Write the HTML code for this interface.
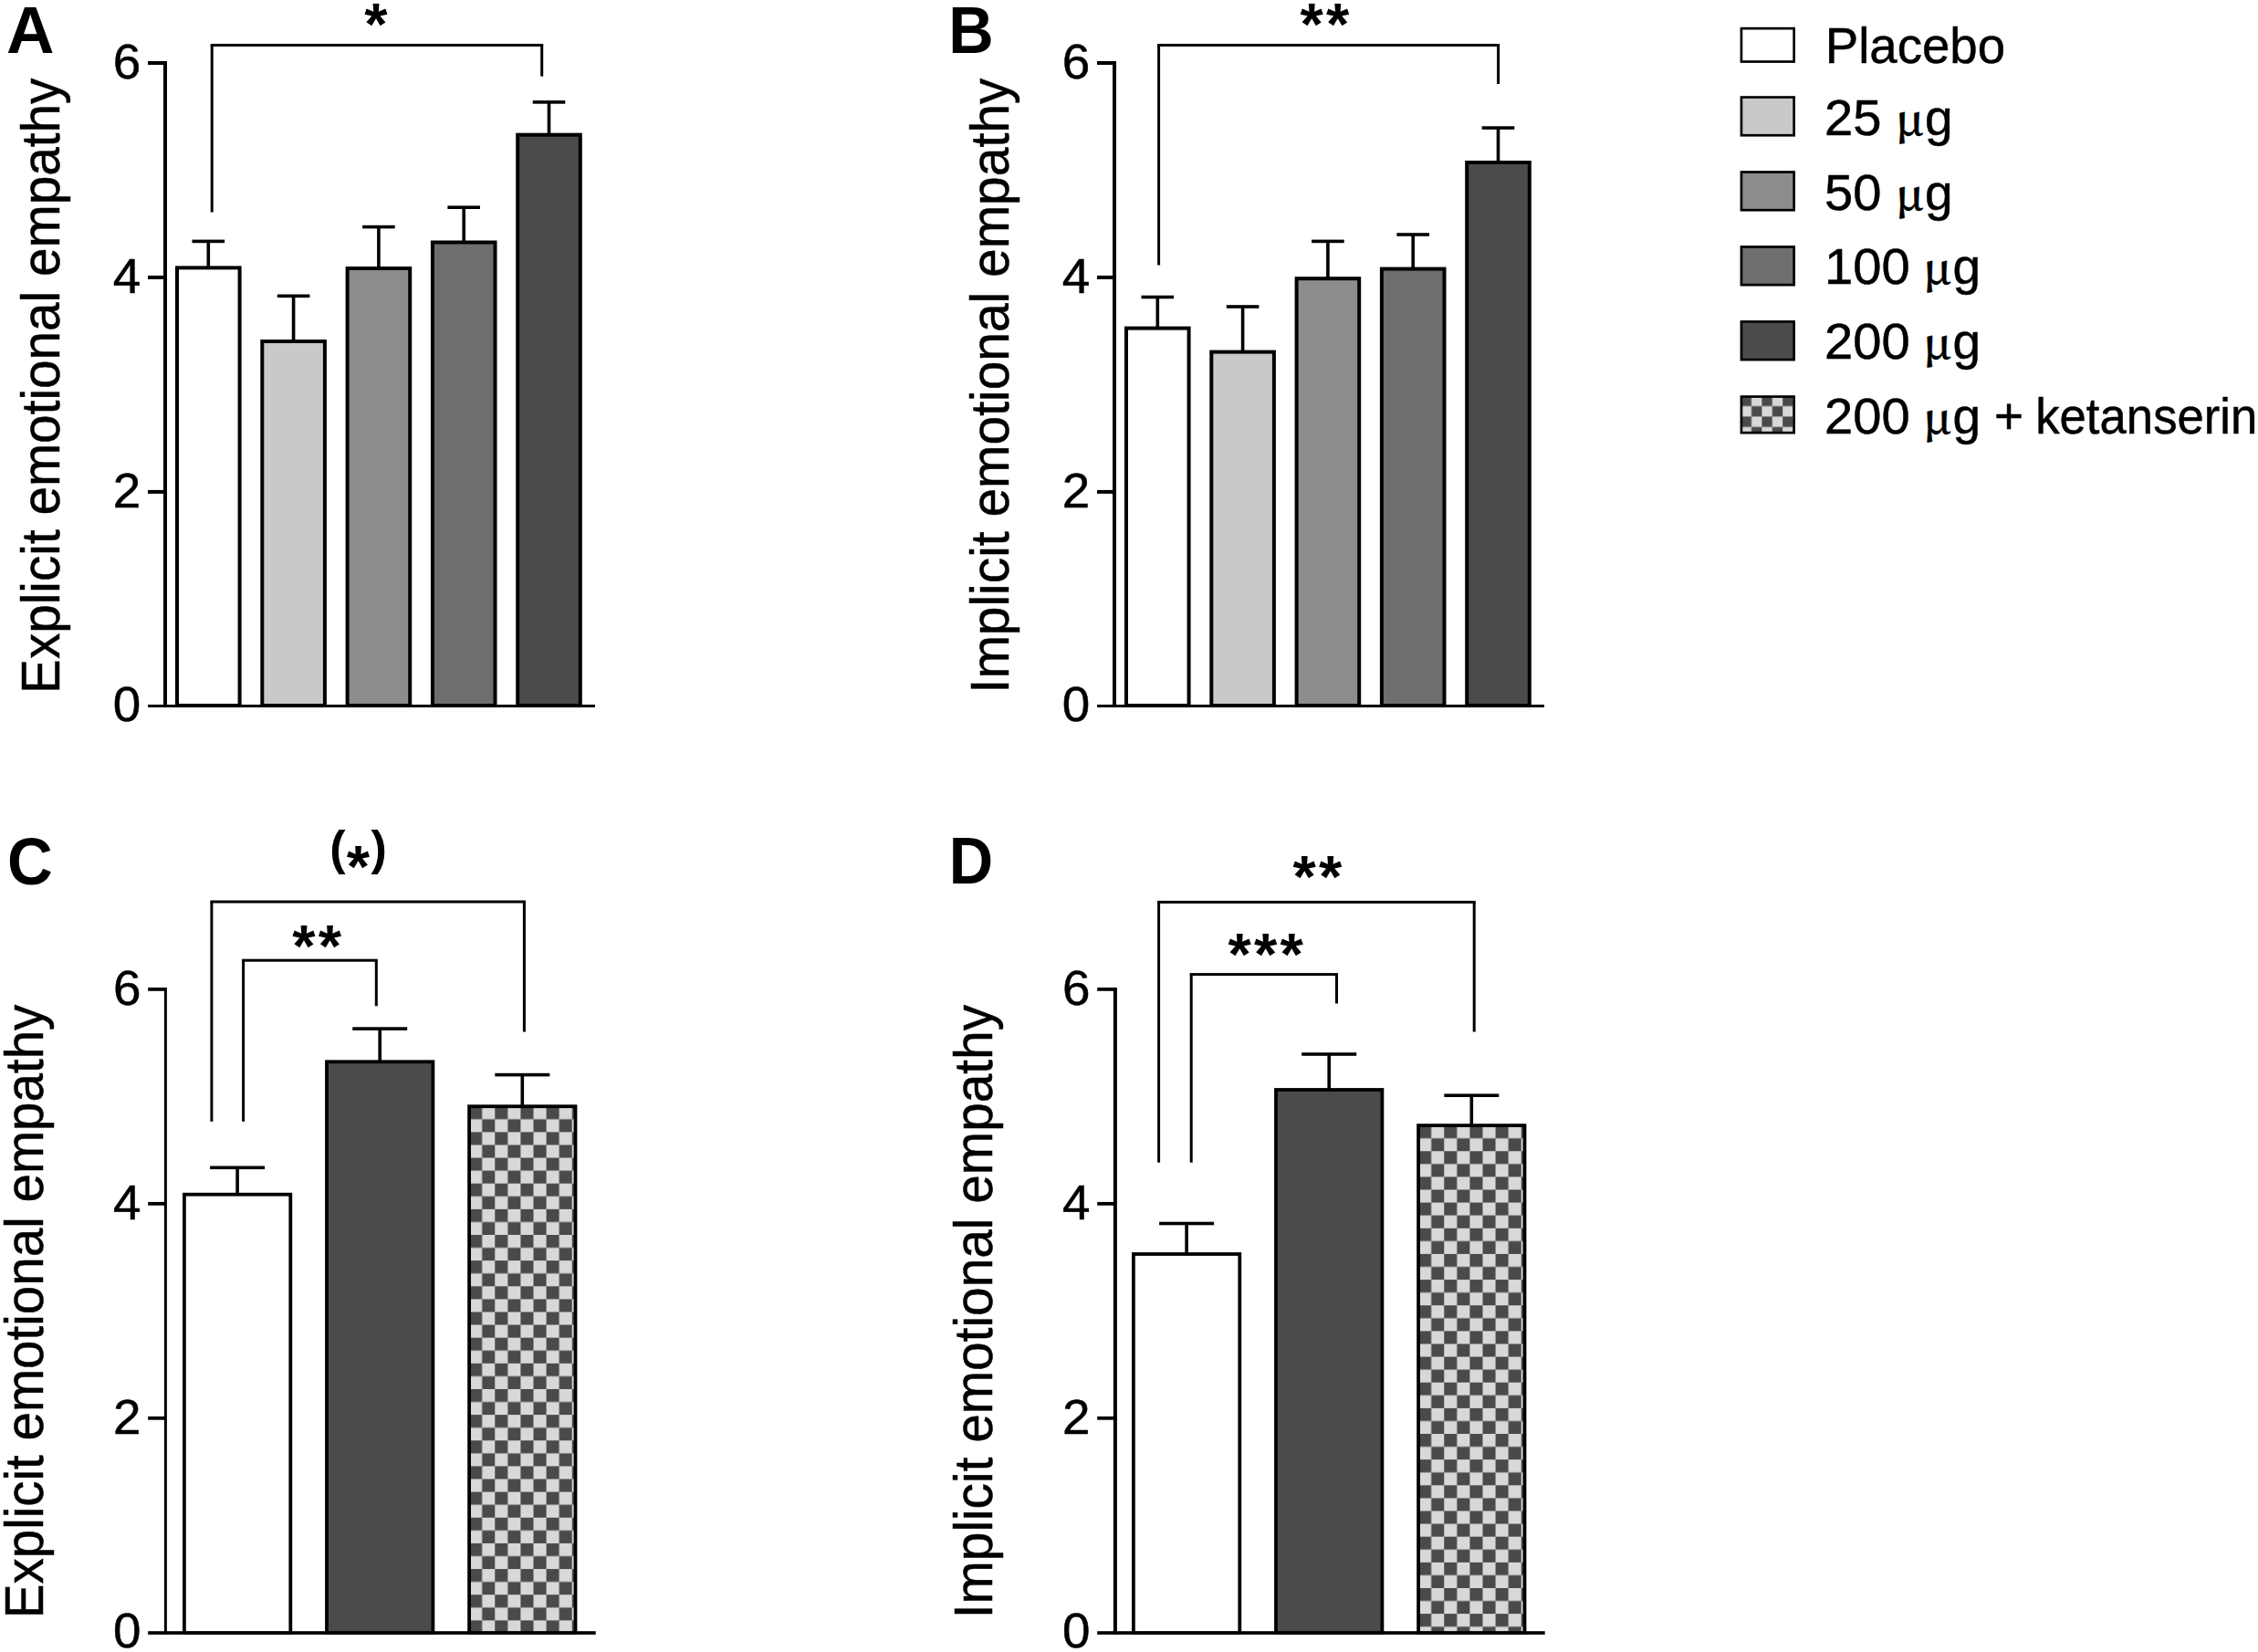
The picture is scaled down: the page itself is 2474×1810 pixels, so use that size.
<!DOCTYPE html>
<html lang="en"><head><meta charset="utf-8"><title>Figure</title>
<style>html,body{margin:0;padding:0;background:#fff}body{width:2474px;height:1810px;overflow:hidden}svg{display:block}text{font-family:'Liberation Sans', Arial, Helvetica, sans-serif;fill:#000;stroke:#000;stroke-width:.5px}text[font-weight=bold]{stroke:none}.mu{font-family:'Noto Serif CJK SC','Liberation Serif',serif;font-weight:600;stroke-width:.4px}</style>
</head><body>
<svg width="2474" height="1810" viewBox="0 0 2474 1810">
<rect width="2474" height="1810" fill="#fff"/>
<!-- Panel A -->
<rect x="179" y="67" width="4" height="708.05" fill="#000"/>
<rect x="162" y="772.05" width="490" height="3" fill="#000"/>
<rect x="162" y="67" width="19" height="4" fill="#000"/>
<text x="123.8" y="85.8" font-size="53" textLength="30.5" lengthAdjust="spacingAndGlyphs">6</text>
<rect x="162" y="301.95" width="19" height="4" fill="#000"/>
<text x="123.8" y="320.75" font-size="53" textLength="30.5" lengthAdjust="spacingAndGlyphs">4</text>
<rect x="162" y="536.9" width="19" height="4" fill="#000"/>
<text x="123.8" y="555.7" font-size="53" textLength="30.5" lengthAdjust="spacingAndGlyphs">2</text>
<text x="123.8" y="790.15" font-size="53" textLength="30.5" lengthAdjust="spacingAndGlyphs">0</text>
<text transform="translate(64.9 759.9) rotate(-90)" font-size="59" textLength="674.2" lengthAdjust="spacingAndGlyphs">Explicit emotional empathy</text>
<rect x="226.5" y="264.4" width="3.6" height="29" fill="#000"/>
<rect x="210.5" y="262.6" width="35.6" height="3.6" fill="#000"/>
<rect x="194" y="293.4" width="68.6" height="479.65" fill="#ffffff" stroke="#000" stroke-width="4"/>
<rect x="319.8" y="324.3" width="3.6" height="49.7" fill="#000"/>
<rect x="303.8" y="322.5" width="35.6" height="3.6" fill="#000"/>
<rect x="287.3" y="374" width="68.6" height="399.05" fill="#c9c9c9" stroke="#000" stroke-width="4"/>
<rect x="413.1" y="248.6" width="3.6" height="45.4" fill="#000"/>
<rect x="397.1" y="246.8" width="35.6" height="3.6" fill="#000"/>
<rect x="380.6" y="294" width="68.6" height="479.05" fill="#8c8c8c" stroke="#000" stroke-width="4"/>
<rect x="506.4" y="227.2" width="3.6" height="38.3" fill="#000"/>
<rect x="490.4" y="225.4" width="35.6" height="3.6" fill="#000"/>
<rect x="473.9" y="265.5" width="68.6" height="507.55" fill="#6e6e6e" stroke="#000" stroke-width="4"/>
<rect x="599.7" y="111.9" width="3.6" height="35.8" fill="#000"/>
<rect x="583.7" y="110.1" width="35.6" height="3.6" fill="#000"/>
<rect x="567.2" y="147.7" width="68.6" height="625.35" fill="#4b4b4b" stroke="#000" stroke-width="4"/>
<rect x="230.7" y="48" width="364.5" height="3" fill="#000"/>
<rect x="230.7" y="49.5" width="3" height="183" fill="#000"/>
<rect x="592.2" y="49.5" width="3" height="34.2" fill="#000"/>
<text x="399.16" y="49.1" font-size="65" font-weight="bold">*</text>
<text x="6.9" y="58.2" font-size="72" font-weight="bold" textLength="52.5" lengthAdjust="spacingAndGlyphs">A</text>
<!-- Panel B -->
<rect x="1219" y="67" width="4" height="708.05" fill="#000"/>
<rect x="1202" y="772.05" width="490" height="3" fill="#000"/>
<rect x="1202" y="67" width="19" height="4" fill="#000"/>
<text x="1163.8" y="85.8" font-size="53" textLength="30.5" lengthAdjust="spacingAndGlyphs">6</text>
<rect x="1202" y="301.95" width="19" height="4" fill="#000"/>
<text x="1163.8" y="320.75" font-size="53" textLength="30.5" lengthAdjust="spacingAndGlyphs">4</text>
<rect x="1202" y="536.9" width="19" height="4" fill="#000"/>
<text x="1163.8" y="555.7" font-size="53" textLength="30.5" lengthAdjust="spacingAndGlyphs">2</text>
<text x="1163.8" y="790.15" font-size="53" textLength="30.5" lengthAdjust="spacingAndGlyphs">0</text>
<text transform="translate(1104.7 759.4) rotate(-90)" font-size="59" textLength="673.7" lengthAdjust="spacingAndGlyphs">Implicit emotional empathy</text>
<rect x="1266.5" y="325.5" width="3.6" height="34.1" fill="#000"/>
<rect x="1250.5" y="323.7" width="35.6" height="3.6" fill="#000"/>
<rect x="1234" y="359.6" width="68.6" height="413.45" fill="#ffffff" stroke="#000" stroke-width="4"/>
<rect x="1359.8" y="336" width="3.6" height="49.6" fill="#000"/>
<rect x="1343.8" y="334.2" width="35.6" height="3.6" fill="#000"/>
<rect x="1327.3" y="385.6" width="68.6" height="387.45" fill="#c9c9c9" stroke="#000" stroke-width="4"/>
<rect x="1453.1" y="264.4" width="3.6" height="40.8" fill="#000"/>
<rect x="1437.1" y="262.6" width="35.6" height="3.6" fill="#000"/>
<rect x="1420.6" y="305.2" width="68.6" height="467.85" fill="#8c8c8c" stroke="#000" stroke-width="4"/>
<rect x="1546.4" y="257" width="3.6" height="37.6" fill="#000"/>
<rect x="1530.4" y="255.2" width="35.6" height="3.6" fill="#000"/>
<rect x="1513.9" y="294.6" width="68.6" height="478.45" fill="#6e6e6e" stroke="#000" stroke-width="4"/>
<rect x="1639.7" y="140.1" width="3.6" height="37.9" fill="#000"/>
<rect x="1623.7" y="138.3" width="35.6" height="3.6" fill="#000"/>
<rect x="1607.2" y="178" width="68.6" height="595.05" fill="#4b4b4b" stroke="#000" stroke-width="4"/>
<rect x="1268.1" y="48" width="375" height="3" fill="#000"/>
<rect x="1268.1" y="49.5" width="3" height="241" fill="#000"/>
<rect x="1640.1" y="49.5" width="3" height="42.5" fill="#000"/>
<text x="1424.43 1452.98" y="49.1" font-size="65" font-weight="bold">**</text>
<text x="1039.35" y="58.1" font-size="72" font-weight="bold" textLength="49.4" lengthAdjust="spacingAndGlyphs">B</text>
<!-- Panel C -->
<rect x="179.9" y="1082" width="3" height="708.9" fill="#000"/>
<rect x="162.2" y="1787.2" width="490.5" height="3.7" fill="#000"/>
<rect x="162.2" y="1082" width="19.2" height="3.8" fill="#000"/>
<text x="124" y="1100.7" font-size="53" textLength="30.5" lengthAdjust="spacingAndGlyphs">6</text>
<rect x="162.2" y="1316.95" width="19.2" height="3.8" fill="#000"/>
<text x="124" y="1335.65" font-size="53" textLength="30.5" lengthAdjust="spacingAndGlyphs">4</text>
<rect x="162.2" y="1551.9" width="19.2" height="3.8" fill="#000"/>
<text x="124" y="1570.6" font-size="53" textLength="30.5" lengthAdjust="spacingAndGlyphs">2</text>
<text x="124" y="1805.05" font-size="53" textLength="30.5" lengthAdjust="spacingAndGlyphs">0</text>
<text transform="translate(47.2 1773.3) rotate(-90)" font-size="59" textLength="672.7" lengthAdjust="spacingAndGlyphs">Explicit emotional empathy</text>
<rect x="258.3" y="1279.3" width="3.6" height="29.4" fill="#000"/>
<rect x="230.1" y="1277.5" width="60" height="3.6" fill="#000"/>
<rect x="201.9" y="1308.7" width="116.4" height="480.3" fill="#ffffff" stroke="#000" stroke-width="3.8"/>
<rect x="414.4" y="1127.1" width="3.6" height="36.2" fill="#000"/>
<rect x="386.2" y="1125.3" width="60" height="3.6" fill="#000"/>
<rect x="358" y="1163.3" width="116.4" height="625.7" fill="#4b4b4b" stroke="#000" stroke-width="3.8"/>
<rect x="570.5" y="1177.6" width="3.6" height="34.6" fill="#000"/>
<rect x="542.3" y="1175.8" width="60" height="3.6" fill="#000"/>
<pattern id="chk1" x="514.1" y="1212.2" width="28.16" height="28.16" patternUnits="userSpaceOnUse"><rect width="28.16" height="28.16" fill="#d8d8d8"/><rect width="14.08" height="14.08" fill="#4a4a4a"/><rect x="14.08" y="14.08" width="14.08" height="14.08" fill="#4a4a4a"/></pattern>
<rect x="514.1" y="1212.2" width="116.4" height="576.8" fill="url(#chk1)" stroke="#000" stroke-width="3.8"/>
<rect x="230.4" y="986.5" width="345.5" height="3" fill="#000"/>
<rect x="230.4" y="988" width="3" height="240.8" fill="#000"/>
<rect x="572.9" y="988" width="3" height="142.5" fill="#000"/>
<rect x="265.1" y="1050.7" width="148.7" height="3" fill="#000"/>
<rect x="265.1" y="1052.2" width="3" height="176.6" fill="#000"/>
<rect x="410.8" y="1052.2" width="3" height="50.1" fill="#000"/>
<text x="361.2" y="946.9" font-size="52" font-weight="bold">(</text>
<text x="423.8" y="946.9" font-size="52" font-weight="bold" text-anchor="end">)</text>
<text x="379.66" y="972.1" font-size="65" font-weight="bold">*</text>
<text x="320.23 348.78" y="1059.45" font-size="65" font-weight="bold">**</text>
<text x="8" y="969" font-size="72" font-weight="bold" textLength="49.7" lengthAdjust="spacingAndGlyphs">C</text>
<!-- Panel D -->
<rect x="1219.9" y="1082" width="4" height="708.9" fill="#000"/>
<rect x="1202.2" y="1787.2" width="490.5" height="3.7" fill="#000"/>
<rect x="1202.2" y="1082" width="19.7" height="3.8" fill="#000"/>
<text x="1164" y="1100.7" font-size="53" textLength="30.5" lengthAdjust="spacingAndGlyphs">6</text>
<rect x="1202.2" y="1316.95" width="19.7" height="3.8" fill="#000"/>
<text x="1164" y="1335.65" font-size="53" textLength="30.5" lengthAdjust="spacingAndGlyphs">4</text>
<rect x="1202.2" y="1551.9" width="19.7" height="3.8" fill="#000"/>
<text x="1164" y="1570.6" font-size="53" textLength="30.5" lengthAdjust="spacingAndGlyphs">2</text>
<text x="1164" y="1805.05" font-size="53" textLength="30.5" lengthAdjust="spacingAndGlyphs">0</text>
<text transform="translate(1087.3 1773.3) rotate(-90)" font-size="59" textLength="672.4" lengthAdjust="spacingAndGlyphs">Implicit emotional empathy</text>
<rect x="1298.3" y="1340.5" width="3.6" height="33.5" fill="#000"/>
<rect x="1270.1" y="1338.7" width="60" height="3.6" fill="#000"/>
<rect x="1241.9" y="1374" width="116.4" height="415" fill="#ffffff" stroke="#000" stroke-width="3.8"/>
<rect x="1454.4" y="1155" width="3.6" height="39" fill="#000"/>
<rect x="1426.2" y="1153.2" width="60" height="3.6" fill="#000"/>
<rect x="1398" y="1194" width="116.4" height="595" fill="#4b4b4b" stroke="#000" stroke-width="3.8"/>
<rect x="1610.5" y="1200.2" width="3.6" height="32.9" fill="#000"/>
<rect x="1582.3" y="1198.4" width="60" height="3.6" fill="#000"/>
<pattern id="chk2" x="1554.1" y="1233.1" width="28.16" height="28.16" patternUnits="userSpaceOnUse"><rect width="28.16" height="28.16" fill="#d8d8d8"/><rect width="14.08" height="14.08" fill="#4a4a4a"/><rect x="14.08" y="14.08" width="14.08" height="14.08" fill="#4a4a4a"/></pattern>
<rect x="1554.1" y="1233.1" width="116.4" height="555.9" fill="url(#chk2)" stroke="#000" stroke-width="3.8"/>
<rect x="1268.1" y="986.9" width="348.6" height="3" fill="#000"/>
<rect x="1268.1" y="988.4" width="3" height="285.3" fill="#000"/>
<rect x="1613.7" y="988.4" width="3" height="142.1" fill="#000"/>
<rect x="1303.7" y="1066.1" width="162.3" height="3" fill="#000"/>
<rect x="1303.7" y="1067.6" width="3" height="206.1" fill="#000"/>
<rect x="1463" y="1067.6" width="3" height="31.9" fill="#000"/>
<text x="1416.48 1445.03" y="982.5" font-size="65" font-weight="bold">**</text>
<text x="1345.41 1373.96 1402.51" y="1067.8" font-size="65" font-weight="bold">***</text>
<text x="1039.65" y="968.4" font-size="72" font-weight="bold" textLength="48.4" lengthAdjust="spacingAndGlyphs">D</text>
<!-- Legend -->
<rect x="1907.95" y="31.15" width="57.7" height="36.4" fill="#ffffff" stroke="#000" stroke-width="2.7"/>
<text x="1999.75" y="68.9" font-size="55" textLength="197.31" lengthAdjust="spacingAndGlyphs">Placebo</text>
<rect x="1907.95" y="106.55" width="57.7" height="41.7" fill="#c9c9c9" stroke="#000" stroke-width="2.7"/>
<text y="147.95" font-size="55"><tspan x="1999" textLength="62.44" lengthAdjust="spacingAndGlyphs">25</tspan><tspan> </tspan><tspan class="mu" x="2077.02" font-size="45" textLength="30.6" lengthAdjust="spacingAndGlyphs">µ</tspan><tspan x="2109.07">g</tspan></text>
<rect x="1907.95" y="188.5" width="57.7" height="41.7" fill="#8c8c8c" stroke="#000" stroke-width="2.7"/>
<text y="229.65" font-size="55"><tspan x="1999" textLength="62.44" lengthAdjust="spacingAndGlyphs">50</tspan><tspan> </tspan><tspan class="mu" x="2077.02" font-size="45" textLength="30.6" lengthAdjust="spacingAndGlyphs">µ</tspan><tspan x="2109.07">g</tspan></text>
<rect x="1907.95" y="270.45" width="57.7" height="41.7" fill="#6e6e6e" stroke="#000" stroke-width="2.7"/>
<text y="311.35" font-size="55"><tspan x="1999" textLength="93.66" lengthAdjust="spacingAndGlyphs">100</tspan><tspan> </tspan><tspan class="mu" x="2107.38" font-size="45" textLength="30.6" lengthAdjust="spacingAndGlyphs">µ</tspan><tspan x="2139.43">g</tspan></text>
<rect x="1907.95" y="352.4" width="57.7" height="41.7" fill="#4b4b4b" stroke="#000" stroke-width="2.7"/>
<text y="393.05" font-size="55"><tspan x="1999" textLength="93.66" lengthAdjust="spacingAndGlyphs">200</tspan><tspan> </tspan><tspan class="mu" x="2107.38" font-size="45" textLength="30.6" lengthAdjust="spacingAndGlyphs">µ</tspan><tspan x="2139.43">g</tspan></text>
<pattern id="chk3" x="1907.6" y="433.6" width="22.8" height="22.8" patternUnits="userSpaceOnUse"><rect width="22.8" height="22.8" fill="#d8d8d8"/><rect width="11.4" height="11.4" fill="#4a4a4a"/><rect x="11.4" y="11.4" width="11.4" height="11.4" fill="#4a4a4a"/></pattern>
<rect x="1907.95" y="434.55" width="57.7" height="39.6" fill="url(#chk3)" stroke="#000" stroke-width="2.7"/>
<text y="474.75" font-size="55"><tspan x="1999" textLength="93.66" lengthAdjust="spacingAndGlyphs">200</tspan><tspan> </tspan><tspan class="mu" x="2107.38" font-size="45" textLength="30.6" lengthAdjust="spacingAndGlyphs">µ</tspan><tspan x="2139.43">g</tspan><tspan> </tspan><tspan x="2184.9">+</tspan><tspan> </tspan><tspan x="2230.2" textLength="243.2" lengthAdjust="spacingAndGlyphs">ketanserin</tspan></text>
</svg></body></html>
